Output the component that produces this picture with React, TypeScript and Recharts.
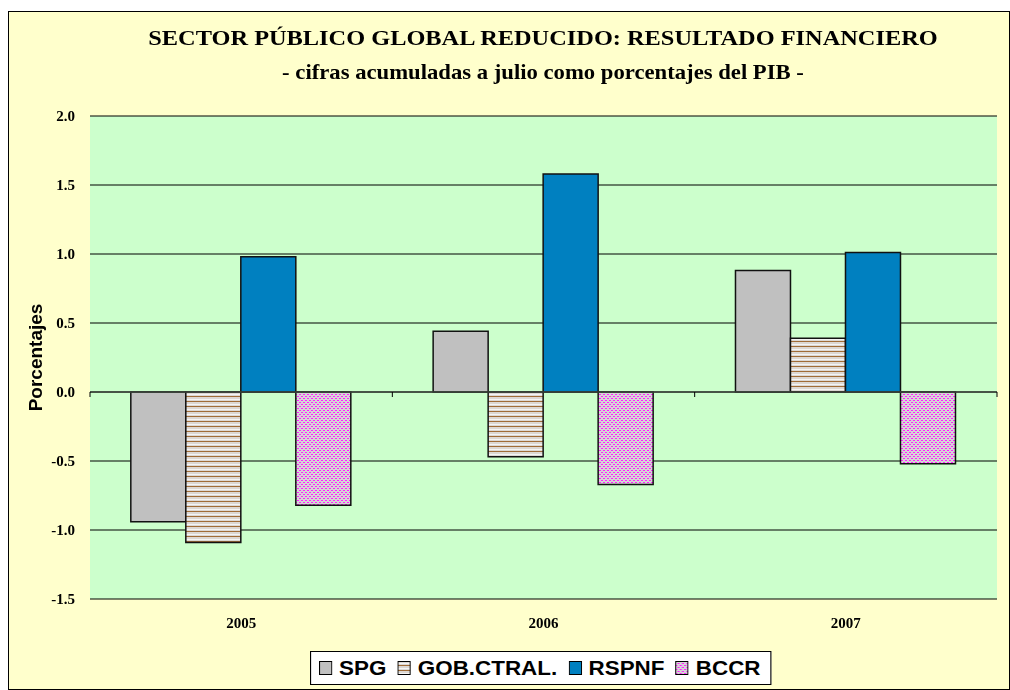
import React from 'react';
import { BarChart, Bar, XAxis, YAxis, CartesianGrid, ReferenceLine, Legend } from 'recharts';

const years = ['2005', '2006', '2007'];
const spg = [-0.94, 0.44, 0.88];
const gobCtral = [-1.09, -0.47, 0.39];
const rspnf = [0.98, 1.58, 1.01];
const bccr = [-0.82, -0.67, -0.52];
const yTicks = [-1.5, -1.0, -0.5, 0, 0.5, 1.0, 1.5, 2.0];

const series = [
    { key: 'spg', name: 'SPG', fill: '#c0c0c0' },
    { key: 'gob', name: 'GOB.CTRAL.', fill: 'url(#gobPattern)' },
    { key: 'rspnf', name: 'RSPNF', fill: '#0080c0' },
    { key: 'bccr', name: 'BCCR', fill: 'url(#bccrPattern)' },
];

const rows = years.map((year, i) => ({
    year,
    spg: spg[i],
    gob: gobCtral[i],
    rspnf: rspnf[i],
    bccr: bccr[i],
}));

const serif = '"Liberation Serif", "Times New Roman", serif';
const sans = '"Liberation Sans", Arial, sans-serif';

// zero line with the small category-boundary ticks hanging below it
const ZeroLine = (props: any) => {
    const { x1, y1, x2 } = props;
    const step = (x2 - x1) / years.length;
    const marks = [];
    for (let i = 0; i <= years.length; i++) {
        const x = x1 + step * i;
        marks.push(<line key={i} x1={x} y1={y1} x2={x} y2={y1 + 5} stroke="#000" strokeWidth={1} />);
    }
    return (
        <g>
            <line x1={x1} y1={y1} x2={x2} y2={y1} stroke="#3c463c" strokeWidth={1.5} />
            {marks}
        </g>
    );
};

const LegendBox = () => (
    <div
        style={{
            display: 'inline-flex',
            alignItems: 'center',
            height: 32,
            padding: '0 9px 0 7px',
            background: '#fff',
            border: '1px solid #000',
            transform: 'scaleX(1.12)',
            transformOrigin: 'left center',
            fontFamily: sans,
            fontWeight: 'bold',
            fontSize: 20,
            whiteSpace: 'nowrap',
        }}
    >
        {series.map((s, i) => (
            <span key={s.key} style={{ display: 'inline-flex', alignItems: 'center', marginLeft: i === 0 ? 0 : 10 }}>
                <svg width={12} height={14} style={{ marginRight: 6 }}>
                    <rect x={0.5} y={0.5} width={11} height={13} fill={s.fill} stroke="#000" strokeWidth={1} />
                </svg>
                {s.name}
            </span>
        ))}
    </div>
);

const YLabel = (props: any) => {
    const { viewBox } = props;
    const cy = viewBox.y + viewBox.height / 2;
    return (
        <text
            x={26}
            y={cy}
            transform={`rotate(-90, 26, ${cy})`}
            textAnchor="middle"
            dominantBaseline="central"
            style={{ fontFamily: sans, fontWeight: 'bold', fontSize: 19, fill: '#000' }}
        >
            Porcentajes
        </text>
    );
};

const titleStyle: React.CSSProperties = {
    position: 'absolute',
    left: 34,
    width: 1000,
    textAlign: 'center',
    fontFamily: serif,
    fontWeight: 'bold',
    fontSize: 21,
    lineHeight: '21px',
    transformOrigin: '50% 50%',
    whiteSpace: 'nowrap',
};

export default function App() {
    return (
        <div
            style={{
                position: 'fixed',
                top: 11,
                left: 8,
                width: 1002,
                height: 679,
                boxSizing: 'border-box',
                border: '1px solid #000',
                background: '#ffffcc',
            }}
        >
            <svg width={0} height={0} style={{ position: 'absolute' }}>
                <defs>
                    <pattern id="gobPattern" x={0} y={0} width={4} height={5} patternUnits="userSpaceOnUse">
                        <rect x={0} y={0} width={4} height={5} fill="#dcd8d4" />
                        <rect x={0} y={2} width={4} height={1} fill="#f4f4f4" />
                        <rect x={0} y={4} width={4} height={1} fill="#a06c38" />
                    </pattern>
                    <pattern id="bccrPattern" x={0} y={0} width={4} height={4} patternUnits="userSpaceOnUse">
                        <rect x={0} y={0} width={4} height={4} fill="#d6d6d6" />
                        <rect x={0} y={0} width={2} height={1} fill="#ff22ff" />
                        <rect x={2} y={2} width={2} height={1} fill="#ff22ff" />
                    </pattern>
                </defs>
            </svg>

            <div style={{ ...titleStyle, top: 16, transform: 'scaleX(1.16)' }}>
                SECTOR PÚBLICO GLOBAL REDUCIDO: RESULTADO FINANCIERO
            </div>
            <div style={{ ...titleStyle, top: 50, transform: 'scaleX(1.08)' }}>
                - cifras acumuladas a julio como porcentajes del PIB -
            </div>

            <BarChart
                width={1000}
                height={677}
                data={rows}
                margin={{ top: 104, right: 12, left: 0, bottom: 0 }}
                barCategoryGap="13.5%"
                barGap={0}
            >
                <CartesianGrid vertical={false} stroke="#000" fill="#ccffcc" fillOpacity={1} />
                <XAxis
                    dataKey="year"
                    height={90}
                    axisLine={false}
                    tickLine={false}
                    tickSize={0}
                    tickMargin={18}
                    tick={{ fontFamily: serif, fontWeight: 'bold', fontSize: 15, fill: '#000' }}
                />
                <YAxis
                    width={81}
                    domain={[-1.5, 2]}
                    ticks={yTicks}
                    allowDataOverflow={true}
                    axisLine={false}
                    tickLine={false}
                    tickSize={0}
                    tickMargin={15}
                    tickFormatter={(v) => Number(v).toFixed(1)}
                    tick={{ fontFamily: serif, fontWeight: 'bold', fontSize: 15, fill: '#000' }}
                    label={{ content: <YLabel /> }}
                />
                <ReferenceLine y={0} shape={<ZeroLine />} />
                {series.map((s) => (
                    <Bar
                        key={s.key}
                        dataKey={s.key}
                        name={s.name}
                        fill={s.fill}
                        stroke="#111"
                        strokeWidth={1.5}
                        isAnimationActive={false}
                    />
                ))}
                <Legend
                    layout="vertical"
                    align="center"
                    verticalAlign="middle"
                    wrapperStyle={{ left: 301, top: 639, width: 'auto', height: 'auto' }}
                    content={() => <LegendBox />}
                />
            </BarChart>
        </div>
    );
}
